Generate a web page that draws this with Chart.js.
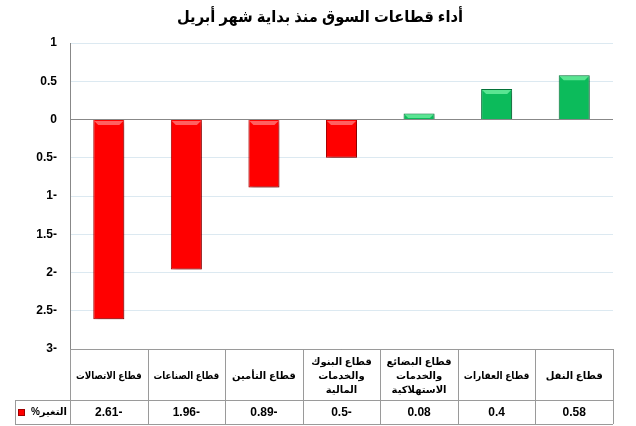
<!DOCTYPE html>
<html lang="ar">
<head>
<meta charset="UTF-8">
<title>أداء قطاعات السوق</title>
<style>
  html, body { margin: 0; padding: 0; background: #ffffff; }
  #wrap { width: 636px; height: 426px; position: relative; }
</style>
<script src="https://cdn.jsdelivr.net/npm/chart.js@4.4.1/dist/chart.umd.min.js"></script>
</head>
<body>
<div id="wrap"><canvas id="chart" width="636" height="426"></canvas></div>
<script>
// chart data
const titleText = 'أداء قطاعات السوق منذ بداية شهر أبريل';
const sectors = [
  ['قطاع الاتصالات'],
  ['قطاع الصناعات'],
  ['قطاع التأمين'],
  ['قطاع البنوك', 'والخدمات', 'المالية'],
  ['قطاع البضائع', 'والخدمات', 'الاستهلاكية'],
  ['قطاع العقارات'],
  ['قطاع النقل']
];
const changes = [-2.61, -1.96, -0.89, -0.5, 0.08, 0.4, 0.58];
const seriesLabel = 'التغير%';
const yMin = -3, yMax = 1, yStep = 0.5;

const FONT = "Arial, 'Liberation Sans', 'DejaVu Sans', sans-serif";

function fmt(v) {
  // negative numbers are written with the minus sign after the number
  return v < 0 ? String(Math.abs(v)) + '-' : String(v);
}

// soft drop shadow + a light bevel on top of each bar
const barLook = {
  id: 'barLook',
  beforeDatasetsDraw(chart) {
    const ctx = chart.ctx;
    ctx.save();
    ctx.shadowColor = 'rgba(0,0,0,0.35)';
    ctx.shadowBlur = 5;
    ctx.shadowOffsetX = 2;
    ctx.shadowOffsetY = 3;
  },
  afterDatasetsDraw(chart) {
    const ctx = chart.ctx;
    ctx.restore();
    ctx.save();
    chart.getDatasetMeta(0).data.forEach((bar, i) => {
      const neg = changes[i] < 0;
      const l = bar.x - bar.width / 2 + 1, r = bar.x + bar.width / 2 - 1;
      const t = Math.min(bar.y, bar.base) + 1;
      const h = Math.min(4, Math.abs(bar.base - bar.y) - 2);
      if (h <= 0) return;
      ctx.fillStyle = neg ? 'rgba(255,120,120,0.8)' : 'rgba(110,240,160,0.8)';
      ctx.beginPath();
      ctx.moveTo(l, t); ctx.lineTo(r, t); ctx.lineTo(r - h, t + h); ctx.lineTo(l + h, t + h);
      ctx.closePath();
      ctx.fill();
    });
    ctx.restore();
  }
};

const titleAndTable = {
  id: 'titleAndTable',
  afterDraw(chart) {
    const ctx = chart.ctx;
    const x = chart.scales.x;
    const area = chart.chartArea;
    const colW = (area.right - area.left) / sectors.length;
    const top = area.bottom;
    const mid = top + 51;
    const bottom = mid + 24;
    const legendLeft = 15;

    ctx.save();
    // title
    ctx.fillStyle = '#000';
    ctx.font = 'bold 16px ' + FONT;
    ctx.textAlign = 'center';
    ctx.textBaseline = 'middle';
    ctx.fillText(titleText, 320, 18, 286);

    // grid lines of the table
    ctx.strokeStyle = '#9a9a9a';
    ctx.lineWidth = 1;
    ctx.beginPath();
    ctx.moveTo(area.left, top + 0.5); ctx.lineTo(area.right, top + 0.5);
    ctx.moveTo(legendLeft, mid + 0.5); ctx.lineTo(area.right, mid + 0.5);
    ctx.moveTo(legendLeft, bottom + 0.5); ctx.lineTo(area.right, bottom + 0.5);
    ctx.moveTo(legendLeft + 0.5, mid); ctx.lineTo(legendLeft + 0.5, bottom);
    for (let i = 0; i <= sectors.length; i++) {
      const px = Math.round(area.left + i * colW) + 0.5;
      ctx.moveTo(px, top); ctx.lineTo(px, bottom);
    }
    ctx.stroke();

    // header row: sector names
    ctx.font = 'bold 10px ' + FONT;
    const lh = 14;
    sectors.forEach((lines, i) => {
      const cx = x.getPixelForValue(i);
      const y0 = top + 27 - (lines.length - 1) * lh / 2;
      lines.forEach((t, j) => ctx.fillText(t, cx, y0 + j * lh, colW - 12));
    });

    // value row
    ctx.font = 'bold 12px ' + FONT;
    changes.forEach((v, i) => {
      ctx.fillText(fmt(v), x.getPixelForValue(i), mid + 13);
    });

    // legend key
    ctx.fillStyle = '#ff0000';
    ctx.fillRect(18, mid + 9, 7, 7);
    ctx.strokeStyle = '#a00000';
    ctx.strokeRect(18.5, mid + 9.5, 6, 6);
    ctx.fillStyle = '#000';
    ctx.font = 'bold 10px ' + FONT;
    ctx.direction = 'rtl';
    ctx.textAlign = 'right';
    ctx.fillText(seriesLabel, 67, mid + 12, 38);
    ctx.restore();
  }
};

new Chart(document.getElementById('chart'), {
  type: 'bar',
  data: {
    labels: sectors.map(s => s.join(' ')),
    datasets: [{
      label: seriesLabel,
      data: changes,
      backgroundColor: changes.map(v => v < 0 ? '#ff0000' : '#0cbb5b'),
      borderColor: changes.map(v => v < 0 ? '#b30000' : '#05743a'),
      borderWidth: 1,
      barPercentage: 0.4,
      categoryPercentage: 1.0
    }]
  },
  options: {
    responsive: false,
    animation: false,
    layout: { padding: { left: 0, right: 23, top: 43, bottom: 77 } },
    plugins: {
      legend: { display: false },
      title: { display: false },
      tooltip: { enabled: false }
    },
    scales: {
      x: {
        display: false,
        offset: true
      },
      y: {
        min: yMin,
        max: yMax,
        afterFit(scale) { scale.width = 70; },
        border: { color: '#888888', width: 1 },
        grid: {
          drawTicks: false,
          color: c => (c.tick.value === 0 || c.tick.value === yMin) ? '#888888' : '#dce9f1'
        },
        ticks: {
          stepSize: yStep,
          padding: 13,
          color: '#000',
          font: { family: FONT, size: 12, weight: 'bold' },
          callback: v => fmt(v)
        }
      }
    }
  },
  plugins: [barLook, titleAndTable]
});
</script>
</body>
</html>
